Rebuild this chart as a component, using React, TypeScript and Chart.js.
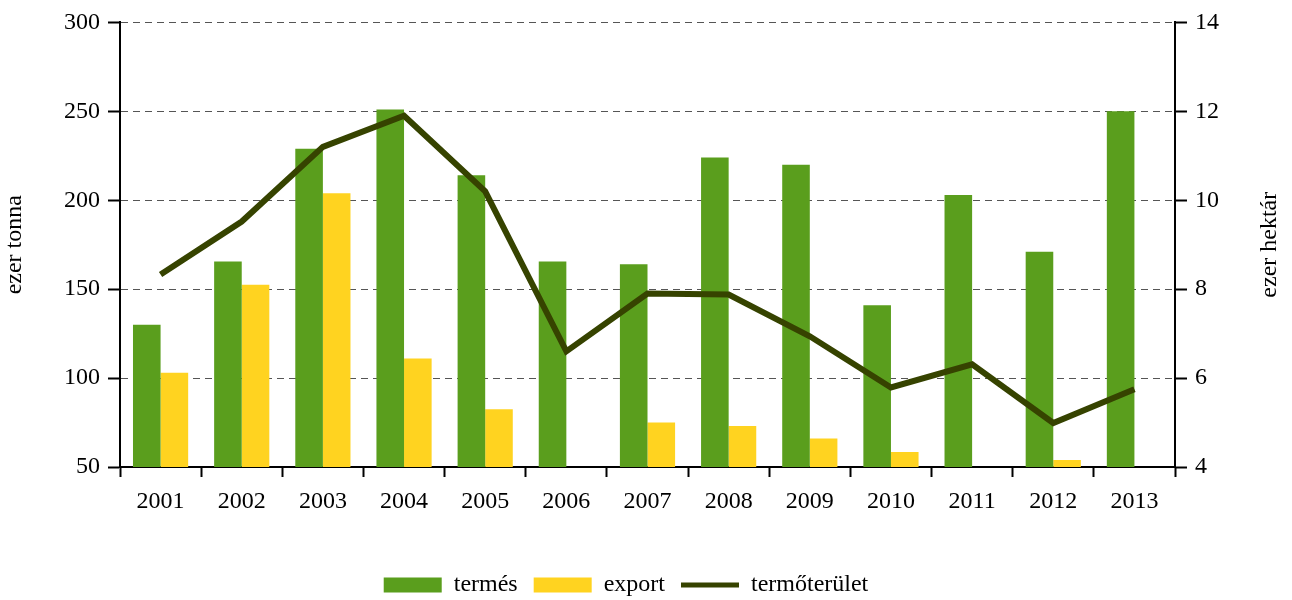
import React, { useEffect, useRef } from "react";
import { Chart, registerables } from "chart.js";

Chart.register(...registerables);

const years = ["2001", "2002", "2003", "2004", "2005", "2006", "2007", "2008", "2009", "2010", "2011", "2012", "2013"];
const termes = [130, 165.5, 229, 251, 214, 165.5, 164, 224, 220, 141, 203, 171, 250];
const exportVals: (number | null)[] = [103, 152.5, 204, 111, 82.5, null, 75, 73, 66, 58.5, null, 54, null];
const terulet = [8.33, 9.52, 11.2, 11.9, 10.2, 6.6, 7.9, 7.88, 6.94, 5.79, 6.31, 4.99, 5.75];

const GREEN = "#5a9e1d";
const YELLOW = "#ffd320";
const OLIVE = "#364300";
const FONT = "'Liberation Serif', 'Times New Roman', serif";

export default function App() {
  const ref = useRef<HTMLCanvasElement | null>(null);

  useEffect(() => {
    if (!ref.current) return;
    const rightTitle = {
      id: "rightTitle",
      afterDraw(chart: any) {
        const { ctx, chartArea } = chart;
        ctx.save();
        ctx.translate(1270, (chartArea.top + chartArea.bottom) / 2);
        ctx.rotate(-Math.PI / 2);
        ctx.font = `24px ${FONT}`;
        ctx.fillStyle = "#000";
        ctx.textAlign = "center";
        ctx.textBaseline = "middle";
        ctx.fillText("ezer hektár", 0, 0);
        ctx.restore();
      },
    };
    const legendShift = {
      id: "legendShift",
      afterLayout(chart: any) {
        const lg = chart.legend;
        if (!lg) return;
        lg.left -= 20;
        lg.right -= 20;
        lg.top += 7;
        lg.bottom += 7;
      },
    };
    const chart = new Chart(ref.current, {
      type: "bar",
      data: {
        labels: years,
        datasets: [
          { type: "bar", label: "termés", data: termes, backgroundColor: GREEN, yAxisID: "y", order: 1, categoryPercentage: 0.68, barPercentage: 1 },
          { type: "bar", label: "export", data: exportVals, backgroundColor: YELLOW, yAxisID: "y", order: 1, categoryPercentage: 0.68, barPercentage: 1 },
          {
            type: "line",
            label: "termőterület",
            data: terulet,
            borderColor: OLIVE,
            backgroundColor: OLIVE,
            borderWidth: 6,
            pointRadius: 0,
            tension: 0,
            yAxisID: "y2",
            order: 0,
          },
        ],
      } as any,
      options: {
        responsive: false,
        animation: false,
        layout: { padding: { left: 0, right: 0, top: 21, bottom: 0 } },
        font: { family: FONT, size: 24 },
        plugins: {
          tooltip: { enabled: false },
          legend: {
            position: "bottom",
            labels: {
              color: "#000",
              font: { family: FONT, size: 24 },
              usePointStyle: true,
              pointStyleWidth: 58,
              boxHeight: 15,
              padding: 16,
              generateLabels: (c: any) => {
                const items = Chart.defaults.plugins.legend.labels.generateLabels(c);
                return items
                  .map((it: any) =>
                    it.datasetIndex === 2
                      ? { ...it, pointStyle: "line", lineWidth: 5, strokeStyle: OLIVE, fillStyle: OLIVE }
                      : { ...it, pointStyle: "rect", lineWidth: 0 }
                  )
                  .sort((a: any, b: any) => a.datasetIndex - b.datasetIndex);
              },
            },
          },
        },
        scales: {
          x: {
            offset: true,
            grid: { offset: true, drawOnChartArea: false, color: "#000", tickLength: 10, tickWidth: 2 },
            border: { display: true, color: "#000", width: 2 },
            ticks: { color: "#000", font: { family: FONT, size: 24 }, padding: 10, maxRotation: 0 },
            afterFit: (s: any) => {
              s.height = 83;
            },
          },
          y: {
            position: "left",
            min: 50,
            max: 300,
            ticks: { stepSize: 50, color: "#000", font: { family: FONT, size: 24 }, padding: 8 },
            grid: { color: "#555", lineWidth: 1, tickColor: "#000", tickLength: 12, tickWidth: 2, tickBorderDash: [] },
            border: { display: true, color: "#000", width: 2, dash: [7, 5] },
            title: { display: true, text: "ezer tonna", color: "#000", font: { family: FONT, size: 24 }, padding: 0 },
            afterFit: (s: any) => {
              s.width = 120;
            },
          },
          y2: {
            position: "right",
            min: 4,
            max: 14,
            ticks: { stepSize: 2, color: "#000", font: { family: FONT, size: 24 }, padding: 8 },
            grid: { drawOnChartArea: false, color: "#000", tickLength: 12, tickWidth: 2 },
            border: { display: true, color: "#000", width: 2 },
            afterFit: (s: any) => {
              s.width = 117;
            },
          },
        },
      } as any,
      plugins: [rightTitle, legendShift],
    });
    return () => chart.destroy();
  }, []);

  return (
    <div style={{ position: "absolute", left: 0, top: 0, width: 1292, height: 600, background: "#fff" }}>
      <canvas ref={ref} width={1292} height={600} style={{ display: "block" }} />
    </div>
  );
}
